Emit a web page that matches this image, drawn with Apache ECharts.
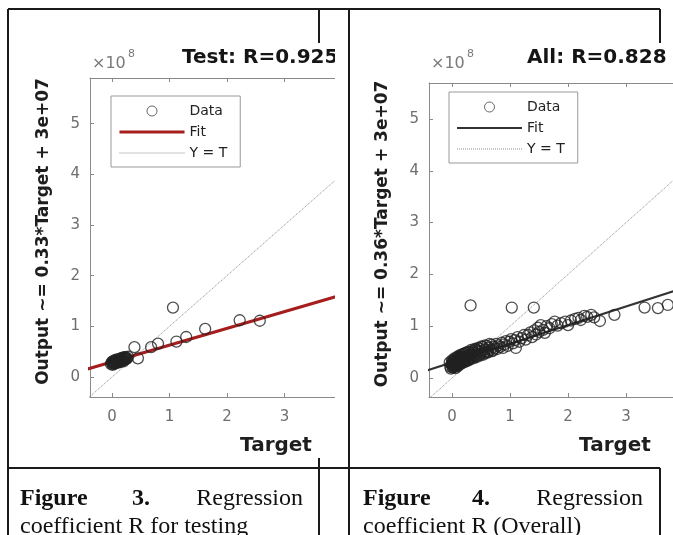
<!DOCTYPE html>
<html>
<head>
<meta charset="utf-8">
<script src="https://cdn.jsdelivr.net/npm/echarts@6/dist/echarts.min.js"></script>
<style>
html,body{margin:0;padding:0;background:#fff;}
#chart{width:673px;height:535px;}
</style>
</head>
<body>
<div id="chart"></div>
<script>
// ---- data (values in units of 1e8) ----
const xTicks = [0, 1, 2, 3];
const yTicks = [0, 1, 2, 3, 4, 5];
const legendNames = ['Data', 'Fit', 'Y = T'];

const testTitle = 'Test: R=0.925';
const allTitle = 'All: R=0.828';
const testYName = 'Output ~= 0.33*Target + 3e+07';
const allYName = 'Output ~= 0.36*Target + 3e+07';
const testSlope = 0.33, testIntercept = 0.3;
const allSlope = 0.36, allIntercept = 0.3;
const lineRange = [-1, 7];

const testTarget = [1.06, 0.39, 0.68, 0.80, 1.12, 1.29, 1.62, 2.22, 2.57, 0.45,
  -0.02, 0.00, 0.02, 0.03, 0.05, 0.06, 0.08, 0.09, 0.11, 0.12,
  0.14, 0.15, 0.17, 0.18, 0.20, 0.21, 0.23, 0.24, 0.26, 0.28,
  0.01, 0.04, 0.07, 0.10, 0.13, 0.16, 0.19, 0.22, 0.25,
  0.00, 0.02, 0.04, 0.06, 0.08, 0.10, 0.12, 0.14, 0.16, 0.18, 0.20, 0.22];
const testOutput = [1.37, 0.59, 0.59, 0.66, 0.70, 0.79, 0.95, 1.12, 1.11, 0.37,
  0.26, 0.30, 0.27, 0.32, 0.29, 0.33, 0.30, 0.35, 0.31, 0.34,
  0.32, 0.37, 0.33, 0.36, 0.34, 0.38, 0.36, 0.39, 0.37, 0.40,
  0.24, 0.26, 0.28, 0.29, 0.30, 0.31, 0.33, 0.35, 0.36,
  0.28, 0.31, 0.27, 0.34, 0.30, 0.33, 0.29, 0.36, 0.32, 0.38, 0.31, 0.39];

const allTarget = [
  -0.03, -0.01, 0.00, 0.01, 0.02, 0.03, 0.04, 0.05, 0.06, 0.07,
  0.08, 0.09, 0.10, 0.11, 0.12, 0.13, 0.14, 0.15, 0.16, 0.17,
  0.18, 0.19, 0.20, 0.21, 0.22, 0.23, 0.24, 0.25, 0.26, 0.27,
  0.28, 0.29, 0.30, 0.32, 0.34, 0.35, 0.36, 0.38, 0.40, 0.41,
  0.42, 0.44, 0.46, 0.47, 0.48, 0.50, 0.52, 0.53, 0.55, 0.57,
  0.59, 0.60, 0.62, 0.64, 0.66, 0.68, 0.70, 0.72, 0.74, 0.76,
  0.78, 0.80, 0.83, 0.86, 0.88, 0.90, 0.93, 0.96, 0.99, 1.02,
  1.05, 1.08, 1.10, 1.13, 1.16, 1.20, 1.24, 1.27, 1.31, 1.35,
  1.38, 1.42, 1.45, 1.48, 1.50, 1.53, 1.57, 1.60, 1.63, 1.68,
  1.72, 1.77, 1.82, 1.88, 1.95, 2.00, 2.05, 2.12, 2.18, 2.22,
  2.28, 2.33, 2.40, 2.45, 2.55, 2.80, 3.32, 3.55, 3.72, 0.32,
  1.03, 1.41,
  0.00, 0.02, 0.04, 0.06, 0.08, 0.10, 0.12, 0.14, 0.16, 0.18,
  0.05, 0.09, 0.13, 0.17, 0.21, 0.25, 0.29, 0.33, 0.37, 0.45,
  -0.04, -0.02, 0.00, 0.02, 0.04, 0.06, 0.08, 0.10, 0.12, 0.14,
  0.16, 0.18, 0.20, 0.22, 0.24, 0.26, 0.28, 0.30, 0.33, 0.36,
  0.39, 0.42, 0.45, 0.48, 0.51, 0.54, 0.57, 0.61, 0.65, 0.69,
  0.01, 0.03, 0.05, 0.07, 0.09, 0.11, 0.13, 0.15, 0.17, 0.19];
const allOutput = [
  0.22, 0.26, 0.30, 0.20, 0.33, 0.24, 0.28, 0.36, 0.22, 0.31,
  0.27, 0.39, 0.25, 0.34, 0.30, 0.41, 0.28, 0.36, 0.32, 0.44,
  0.30, 0.38, 0.34, 0.46, 0.32, 0.40, 0.36, 0.48, 0.34, 0.43,
  0.38, 0.50, 0.37, 0.45, 0.41, 0.52, 0.40, 0.47, 0.44, 0.55,
  0.42, 0.50, 0.46, 0.57, 0.45, 0.52, 0.49, 0.60, 0.48, 0.55,
  0.51, 0.62, 0.50, 0.58, 0.54, 0.64, 0.53, 0.60, 0.57, 0.66,
  0.56, 0.63, 0.60, 0.68, 0.58, 0.65, 0.71, 0.62, 0.70, 0.75,
  0.67, 0.73, 0.58, 0.79, 0.70, 0.77, 0.83, 0.74, 0.83, 0.88,
  0.79, 0.92, 0.84, 0.97, 0.89, 1.02, 0.93, 0.87, 1.00, 0.96,
  1.04, 1.09, 1.01, 1.06, 1.09, 1.02, 1.11, 1.14, 1.16, 1.12,
  1.20, 1.18, 1.22, 1.17, 1.10, 1.22, 1.36, 1.35, 1.41, 1.40,
  1.36, 1.36,
  0.25, 0.28, 0.31, 0.27, 0.33, 0.30, 0.35, 0.33, 0.38, 0.36,
  0.26, 0.29, 0.32, 0.35, 0.39, 0.41, 0.44, 0.47, 0.50, 0.53,
  0.30, 0.18, 0.34, 0.21, 0.38, 0.19, 0.40, 0.23, 0.43, 0.26,
  0.45, 0.29, 0.47, 0.31, 0.49, 0.33, 0.51, 0.35, 0.54, 0.38,
  0.56, 0.40, 0.58, 0.43, 0.61, 0.45, 0.63, 0.49, 0.66, 0.52,
  0.27, 0.23, 0.31, 0.25, 0.35, 0.28, 0.38, 0.30, 0.40, 0.33];

const captionLeft = ['Figure', '3.', 'Regression', 'coefficient R for testing'];
const captionRight = ['Figure', '4.', 'Regression', 'coefficient R (Overall)'];

// ---- build ----
const pairs = (xs, ys) => xs.map((x, i) => [x, ys[i]]);
const fitLine = (s, b) => lineRange.map(x => [x, s * x + b]);
const idLine = () => lineRange.map(x => [x, x]);

const AX = '#8a8a8a';
const LBL = '#6e6e6e';
const IDC = '#8c8c8c';
const SANS = 'DejaVu Sans';
const NOSYM = { color: 'rgba(0,0,0,0)', borderColor: 'rgba(0,0,0,0)', borderWidth: 0, opacity: 0 };

function xAxes(gi, min, max, shift) {
  return [{
    gridIndex: gi, type: 'value', min: min, max: max, position: 'bottom',
    axisLine: { show: true, onZero: false, lineStyle: { color: AX, width: 1 } },
    axisTick: { show: true, inside: true, length: 4, customValues: xTicks, lineStyle: { color: AX } },
    axisLabel: { show: true, customValues: xTicks, margin: 13, color: LBL, fontFamily: SANS, fontSize: 15 },
    splitLine: { show: false },
    name: 'Target', nameLocation: 'middle', nameGap: 39,
    nameTextStyle: { fontFamily: SANS, fontWeight: 'bold', fontSize: 20, color: '#1e1e1e', align: 'center', padding: [0, 0, 0, shift] }
  }, {
    gridIndex: gi, type: 'value', min: min, max: max, position: 'top',
    axisLine: { show: true, onZero: false, lineStyle: { color: AX, width: 1 } },
    axisTick: { show: true, inside: true, length: 4, customValues: xTicks, lineStyle: { color: AX } },
    axisLabel: { show: false }, splitLine: { show: false }
  }];
}
function yAxis(gi, min, max, name) {
  return {
    gridIndex: gi, type: 'value', min: min, max: max,
    axisLine: { show: true, onZero: false, lineStyle: { color: AX, width: 1 } },
    axisTick: { show: true, inside: true, length: 4, customValues: yTicks, lineStyle: { color: AX } },
    axisLabel: { show: true, customValues: yTicks, margin: 10, color: LBL, fontFamily: SANS, fontSize: 15 },
    splitLine: { show: false },
    name: name, nameLocation: 'middle', nameGap: 38, nameRotate: 90,
    nameTextStyle: { fontFamily: SANS, fontWeight: 'bold', fontSize: 17, color: '#1e1e1e', padding: [0, 0, 0, 12] }
  };
}
function legend(left, top, fitColor, fitWidth) {
  return {
    left: left, top: top, orient: 'vertical', selectedMode: false,
    padding: [8, 13, 7, 7], itemWidth: 65, itemHeight: 10, itemGap: 7,
    borderColor: '#999', borderWidth: 1, backgroundColor: '#fff',
    textStyle: { fontFamily: SANS, fontSize: 14, color: '#222' },
    data: [
      { name: legendNames[0], icon: 'circle', itemStyle: { color: 'rgba(0,0,0,0)', borderColor: '#444', borderWidth: 1 } },
      { name: legendNames[1], lineStyle: { color: fitColor, width: fitWidth, type: 'solid' }, itemStyle: NOSYM },
      { name: legendNames[2], lineStyle: { color: IDC, width: 1, type: 'dotted' }, itemStyle: NOSYM }
    ]
  };
}
function seriesFor(gi, data, slope, icpt, fitColor, fitWidth) {
  return [
    { name: legendNames[2], type: 'line', xAxisIndex: gi * 2, yAxisIndex: gi, data: idLine(), symbol: 'none',
      lineStyle: { color: IDC, width: 1, type: 'dotted' }, z: 2 },
    { name: legendNames[1], type: 'line', xAxisIndex: gi * 2, yAxisIndex: gi, data: fitLine(slope, icpt), symbol: 'none',
      lineStyle: { color: fitColor, width: fitWidth }, itemStyle: { color: fitColor }, z: 3 },
    { name: legendNames[0], type: 'scatter', xAxisIndex: gi * 2, yAxisIndex: gi, data: data, symbol: 'circle', symbolSize: 11,
      itemStyle: { color: 'rgba(0,0,0,0)', borderColor: '#222', borderWidth: 1.3 }, z: 4 }
  ];
}

const LINE = { stroke: '#1a1a1a', lineWidth: 2 };
const segs = [
  [8, 9, 660, 9], [8, 9, 8, 535], [349, 9, 349, 535],
  [660, 9, 660, 43], [660, 468, 660, 535],
  [319, 9, 319, 43], [319, 458, 319, 535],
  [8, 468, 660, 468]
];
const SERIF = '"Liberation Serif", "Times New Roman", serif';
function caption(x0, x1, x2right, words) {
  return [
    { type: 'text', x: x0, y: 499, z: 100, style: { text: words[0], font: 'bold 24px ' + SERIF, fill: '#111', verticalAlign: 'middle', align: 'left' } },
    { type: 'text', x: x1, y: 499, z: 100, style: { text: words[1], font: 'bold 24px ' + SERIF, fill: '#111', verticalAlign: 'middle', align: 'left' } },
    { type: 'text', x: x2right, y: 499, z: 100, style: { text: words[2], font: '24px ' + SERIF, fill: '#111', verticalAlign: 'middle', align: 'right' } },
    { type: 'text', x: x0, y: 527, z: 100, style: { text: words[3], font: '24px ' + SERIF, fill: '#111', verticalAlign: 'middle', align: 'left' } }
  ];
}
function expo(x) {
  return [
    { type: 'text', x: x, y: 64, z: 100, style: { text: '×10', font: '16px "DejaVu Sans"', fill: '#7a7a7a', verticalAlign: 'middle' } },
    { type: 'text', x: x + 36, y: 54, z: 100, style: { text: '8', font: '11px "DejaVu Sans"', fill: '#7a7a7a', verticalAlign: 'middle' } }
  ];
}

const graphics = [].concat(
  [{ type: 'rect', shape: { x: 335, y: 40, width: 13, height: 418 }, style: { fill: '#fff' }, z: 90 }],
  segs.map(s => ({ type: 'line', z: 100, shape: { x1: s[0], y1: s[1], x2: s[2], y2: s[3] }, style: LINE })),
  caption(20, 132, 303, captionLeft),
  caption(363, 472, 643, captionRight),
  expo(92), expo(431)
);

const chart = echarts.init(document.getElementById('chart'), null, { renderer: 'canvas' });
chart.setOption({
  animation: false,
  backgroundColor: '#fff',
  title: [
    { text: testTitle, left: 182, top: 48, padding: 0, textStyle: { fontFamily: SANS, fontWeight: 'bold', fontSize: 20, color: '#151515' } },
    { text: allTitle, left: 527, top: 48, padding: 0, textStyle: { fontFamily: SANS, fontWeight: 'bold', fontSize: 20, color: '#151515' } }
  ],
  legend: [legend(111, 96, '#a51d1d', 3), legend(449, 92, '#333', 2)],
  grid: [
    { left: 90, top: 78, width: 250, height: 319, outerBoundsMode: 'none', containLabel: false },
    { left: 429, top: 83, width: 244, height: 314, outerBoundsMode: 'none', containLabel: false }
  ],
  xAxis: [].concat(xAxes(0, -0.383, 3.965, 122), xAxes(1, -0.397, 3.81, 128)),
  yAxis: [yAxis(0, -0.394, 5.90, testYName), yAxis(1, -0.367, 5.695, allYName)],
  series: [].concat(
    seriesFor(0, pairs(testTarget, testOutput), testSlope, testIntercept, '#a51d1d', 3),
    seriesFor(1, pairs(allTarget, allOutput), allSlope, allIntercept, '#333', 2)
  ),
  graphic: graphics
});
</script>
</body>
</html>
